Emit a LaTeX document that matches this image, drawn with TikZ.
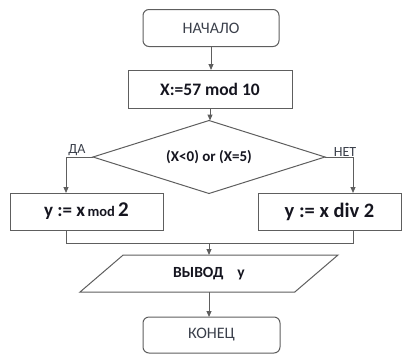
\documentclass[tikz,border=0pt]{standalone}
\usepackage{fontspec}
\setmainfont{Carlito}
\usetikzlibrary{shapes.geometric,arrows.meta}
\definecolor{linec}{HTML}{5E5E5E}
\definecolor{txtc}{HTML}{3A3F4A}
\definecolor{boldc}{HTML}{15151F}
\tikzset{
  every node/.style={inner sep=0pt,outer sep=0pt},
  term/.style={draw=linec,line width=1pt,rounded corners=6pt,text=txtc,font=\fontsize{16}{18}\selectfont},
  procbox/.style={draw=linec,line width=1pt,text=boldc,font=\bfseries\fontsize{17.5}{19}\selectfont},
  decision/.style={draw=linec,line width=1pt,diamond,aspect=3.18,text=boldc,font=\bfseries\fontsize{15}{17}\selectfont},
  iobox/.style={draw=linec,line width=1pt,trapezium,trapezium left angle=35,trapezium right angle=145,trapezium stretches=true,text=boldc,font=\bfseries\fontsize{15.5}{17}\selectfont},
  conn/.style={draw=linec,line width=1pt},
  arr/.style={conn,-{Triangle[length=6pt,width=5pt]}},
  lbl/.style={text=txtc,font=\fontsize{14}{15}\selectfont}
}
\begin{document}
\begin{tikzpicture}[x=1pt,y=-1pt]
\useasboundingbox (0,0) rectangle (403,356);
\node[term,minimum width=136pt,minimum height=37pt] (start) at (211,28) {НАЧАЛО};
\node[procbox,minimum width=164pt,minimum height=38pt] (assign) at (210,89) {X:=57 mod 10};
\node[decision,minimum width=232pt,minimum height=73pt] (cond) at (209,157) {(X<0) or (X=5)};
\node[procbox,minimum width=153pt,minimum height=37pt] (lbox) at (86.5,211.5) {\fontsize{19}{21}\selectfont y := x{\fontsize{14.5}{16}\selectfont\,mod}\,{\fontsize{21}{23}\selectfont 2}};
\node[procbox,minimum width=143pt,minimum height=37pt] (rbox) at (329.5,211.5) {\fontsize{20.5}{22}\selectfont y := x div 2};
\node[iobox,minimum width=258pt,minimum height=37pt] (out) at (209,273.5) {ВЫВОД\hspace{14pt}y};
\node[term,minimum width=137pt,minimum height=36pt] (end) at (211.5,335) {КОНЕЦ};
\coordinate (lcorner) at (66,157);
\coordinate (rcorner) at (353,157);
\coordinate (mergeL) at (66,243);
\coordinate (mergeR) at (353,243);
\coordinate (mergeM) at (209,243);
\node[lbl,anchor=south] (yes) at (77,156) {ДА};
\node[lbl,anchor=south] (no) at (345,156) {НЕТ};
\draw[arr] (start.south) -- (start.south |- assign.north);
\draw[arr] (assign.south) -- (assign.south |- cond.north);
\draw[arr] (cond.west) -- (lcorner) -- (lcorner |- lbox.north);
\draw[arr] (cond.east) -- (rcorner) -- (rcorner |- rbox.north);
\draw[conn] (lcorner |- lbox.south) -- (mergeL) -- (mergeR) -- (rcorner |- rbox.south);
\draw[arr] (mergeM) -- (mergeM |- out.north);
\draw[arr] (mergeM |- out.south) -- (mergeM |- end.north);
\end{tikzpicture}
\end{document}
